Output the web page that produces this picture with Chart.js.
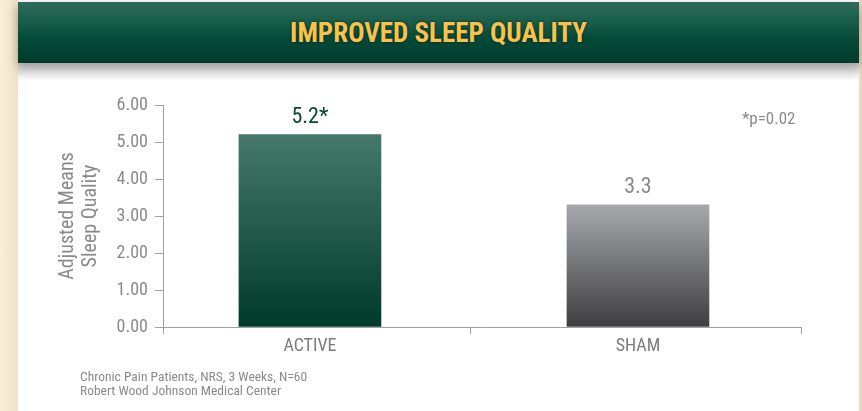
<!DOCTYPE html>
<html>
<head>
<meta charset="utf-8">
<script src="https://cdn.jsdelivr.net/npm/chart.js@4/dist/chart.umd.min.js"></script>
<style>
  html, body { margin:0; padding:0; }
  body { width:862px; height:411px; position:relative; overflow:hidden;
         background: linear-gradient(to right, #f9efdc 0px, #f1e2c8 18px, #ede0c8 858px, #e6d6bc 862px); }
  #panel { position:absolute; left:18px; top:0; width:841px; height:411px; background:#fff; }
  #header { position:absolute; left:18px; top:2px; width:841px; height:61px;
            background: linear-gradient(to bottom, #2f6a5a 0%, #175c49 35%, #054a39 60%, #003a2b 100%);
            box-shadow: 0 4px 10px rgba(0,0,0,0.35); }
  #title { position:absolute; left:0; right:0; top:15px; text-align:center;
           font-family:"Roboto Condensed","Liberation Sans Narrow",sans-serif; font-weight:bold;
           font-size:27px; color:#f8c24c; letter-spacing:0px;
           text-shadow: 0 0 3px rgba(0,0,0,0.6); }
  #shade { position:absolute; left:18px; top:63px; width:841px; height:18px;
           background: linear-gradient(to bottom, rgba(150,150,150,0.55), rgba(255,255,255,0)); }
  #wrap { position:absolute; left:0; top:0; width:862px; height:411px; }
  .note { position:absolute; font-family:"Roboto Condensed","Liberation Sans Narrow",sans-serif; color:#8a8a8c; }
  #pval { left:742px; top:108px; font-size:17px; }
  #foot { left:80px; top:369px; font-size:13.5px; line-height:14px; }
</style>
</head>
<body>
<div id="panel"></div>
<div id="header"><div id="title">IMPROVED SLEEP QUALITY</div></div>
<div id="shade"></div>
<div id="wrap"><canvas id="c" width="862" height="411"></canvas></div>
<div class="note" id="pval">*p=0.02</div>
<div class="note" id="foot">Chronic Pain Patients, NRS, 3 Weeks, N=60<br>Robert Wood Johnson Medical Center</div>
<script>
const categories = ["ACTIVE", "SHAM"];
const values = [5.2, 3.3];
const valueLabels = ["5.2*", "3.3"];
const yTicks = [0, 1, 2, 3, 4, 5, 6];
const yTitle = ["Adjusted Means", "Sleep Quality"];

// x axis (category index units): range and the divider tick between the two groups
const xRange = [-0.448, 1.497];
const xDivider = 0.488;

const FONT = "'Roboto Condensed','Liberation Sans Narrow',sans-serif";
const GRAY = "#8a8a8c";
const AXIS = "#a0a0a0";

function grad(ctx, chartArea, top, bottom, yTop) {
  const g = ctx.createLinearGradient(0, yTop, 0, chartArea.bottom);
  g.addColorStop(0, top);
  g.addColorStop(1, bottom);
  return g;
}

const labelPlugin = {
  id: 'valueLabels',
  afterDatasetsDraw(chart) {
    const ctx = chart.ctx;
    const meta = chart.getDatasetMeta(0);
    ctx.save();
    ctx.font = "22px " + FONT;
    ctx.textAlign = "center";
    ctx.textBaseline = "bottom";
    meta.data.forEach((bar, i) => {
      ctx.fillStyle = i === 0 ? "#0b4634" : GRAY;
      ctx.fillText(valueLabels[i], bar.x, bar.y - 6);
    });
    ctx.restore();
  }
};

const isCat = (v) => Math.abs(v - Math.round(v)) < 1e-9 && v >= 0 && v < categories.length;

new Chart(document.getElementById('c'), {
  type: 'bar',
  data: {
    datasets: [{
      data: categories.map((c, i) => ({ x: i, y: values[i] })),
      backgroundColor: (context) => {
        const chart = context.chart;
        const { ctx, chartArea } = chart;
        if (!chartArea) return '#0a4a38';
        const y = chart.scales.y;
        const v = values[context.dataIndex];
        const yTop = y.getPixelForValue(v);
        return context.dataIndex === 0
          ? grad(ctx, chartArea, '#44786a', '#003a2a', yTop)
          : grad(ctx, chartArea, '#a7a8ac', '#3e3e40', yTop);
      },
      borderWidth: 0,
      barThickness: 142
    }]
  },
  options: {
    responsive: false,
    animation: false,
    events: [],
    layout: { padding: { left: 56, top: 105, right: 61, bottom: 0 } },
    plugins: { legend: { display: false }, tooltip: { enabled: false }, title: { display: false } },
    scales: {
      x: {
        type: 'linear',
        offset: false,
        min: xRange[0], max: xRange[1],
        afterBuildTicks(scale) {
          scale.ticks = [xRange[0], 0, xDivider, 1, xRange[1]].map(v => ({ value: v }));
        },
        grid: {
          display: true, drawOnChartArea: false, drawTicks: true, tickLength: 7, lineWidth: 1, offset: false,
          color: (ctx) => (ctx.tick && isCat(ctx.tick.value)) ? 'rgba(0,0,0,0)' : AXIS
        },
        border: { display: true, color: AXIS, width: 1 },
        ticks: {
          color: "#7c7c7e", font: { family: FONT, size: 18 }, padding: 2, autoSkip: false, maxRotation: 0,
          callback: (v) => isCat(v) ? categories[Math.round(v)] : ''
        },
        afterFit(scale) { scale.height = 84; }
      },
      y: {
        min: 0, max: 6,
        afterBuildTicks(scale) { scale.ticks = yTicks.map(v => ({ value: v })); },
        grid: { display: true, drawOnChartArea: false, drawTicks: true, tickLength: 8, color: AXIS, lineWidth: 1 },
        border: { display: true, color: AXIS, width: 1 },
        ticks: { color: GRAY, font: { family: FONT, size: 18 }, padding: 7, callback: (v) => Number(v).toFixed(2) },
        title: { display: true, text: yTitle, color: GRAY, font: { family: FONT, size: 20, lineHeight: 1.15 }, padding: 0 },
        afterFit(scale) { scale.width = 107; }
      }
    }
  },
  plugins: [labelPlugin]
});
</script>
</body>
</html>
